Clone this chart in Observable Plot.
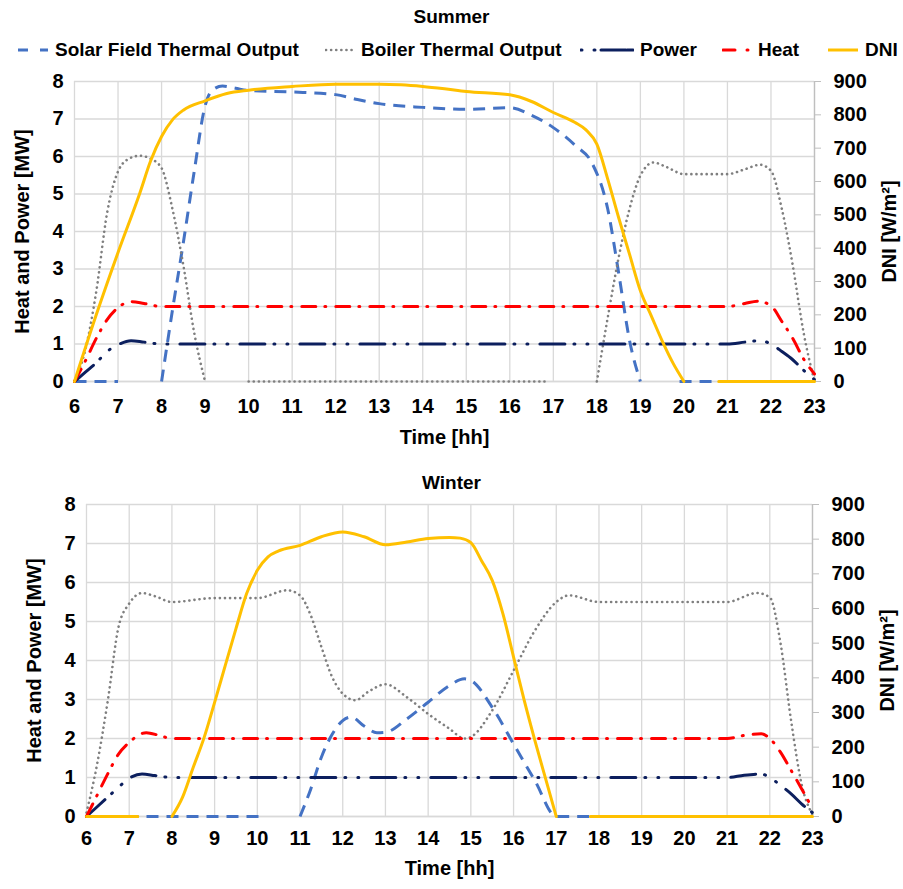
<!DOCTYPE html>
<html>
<head>
<meta charset="utf-8">
<script src="https://cdn.jsdelivr.net/npm/d3@7"></script>
<script src="https://cdn.jsdelivr.net/npm/@observablehq/plot@0.6"></script>
<style>
  html, body { margin: 0; padding: 0; background: #fff; }
  body { width: 903px; height: 889px; position: relative; overflow: hidden;
         font-family: "Liberation Sans", Arial, sans-serif; font-weight: bold; color: #000; }
  .title { position: absolute; left: 0; width: 903px; text-align: center; font-size: 19px; z-index: 2; }
  .panel { position: absolute; left: 0; z-index: 1; }
  .panel svg text { font-weight: bold; }
  #legend { position: absolute; top: 38px; left: 0; width: 903px; height: 24px; font-size: 19px; z-index: 2; }
  .lg { position: absolute; top: 0; display: flex; align-items: center; height: 24px; white-space: nowrap; }
  .lg svg { margin-right: 6px; }
</style>
</head>
<body>
<div class="panel" id="summer" style="top:60px"></div>
<div class="panel" id="winter" style="top:484px"></div>
<div class="title" style="top:6px">Summer</div>
<div id="legend"></div>
<div class="title" style="top:472px">Winter</div>
<script>
// ---------- data ----------
const hours = d3.range(6, 24);
const mwTicks = [0, 1, 2, 3, 4, 5, 6, 7, 8];
const dniTicks = [0, 100, 200, 300, 400, 500, 600, 700, 800, 900];
const dniMax = 900; // DNI axis top corresponds to 8 MW

const seriesNames = ["Solar Field Thermal Output", "Boiler Thermal Output", "Power", "Heat", "DNI"];

// Summer  [hour, MW]  (DNI in W/m²); null = segment not visible in the original
const summerSolar = [[6,0],[7,0],[7.5,null],[8,0],[8.25,1.9],[8.5,3.7],[8.75,5.6],[9,7.35],[9.15,7.75],[9.4,7.88],[9.7,7.82],[10,7.76],[11,7.72],[12,7.65],[12.5,7.52],[13,7.41],[14,7.31],[15,7.26],[16,7.3],[16.5,7.1],[17,6.77],[17.5,6.3],[17.9,5.8],[18.25,4.6],[18.5,2.9],[18.75,1.1],[19,0],[19.45,null],[19.9,0],[21,0],[22,0],[23,0]];
const summerBoiler = [[6,0],[6.25,0.85],[6.5,2.4],[6.75,4.5],[7,5.6],[7.25,5.94],[7.5,6.02],[7.75,5.94],[8,5.69],[8.25,4.6],[8.5,3.1],[8.75,1.3],[9,0],[9.5,null],[10,0],[11,0],[12,0],[13,0],[14,0],[15,0],[16,0],[16.9,0],[17.5,null],[18,0],[18.25,1.7],[18.5,3.3],[18.75,4.6],[19,5.49],[19.3,5.84],[19.6,5.72],[20,5.53],[21,5.53],[21.4,5.66],[21.75,5.78],[22,5.62],[22.25,4.6],[22.5,3.1],[22.75,1.3],[23,0]];
const summerPower = [[6,0],[6.25,0.25],[6.5,0.5],[6.75,0.8],[7,0.98],[7.3,1.09],[7.6,1.05],[8,1.0],[21,1.0],[21.4,1.05],[21.75,1.09],[22,1.0],[22.25,0.8],[22.5,0.58],[22.75,0.3],[23,0.05]];
const summerHeat = [[6,0],[6.25,0.55],[6.5,1.15],[6.75,1.65],[7,1.97],[7.3,2.13],[7.6,2.08],[8,2.0],[21,2.0],[21.4,2.08],[21.7,2.14],[22,2.02],[22.25,1.6],[22.5,1.15],[22.75,0.6],[23,0.2]];
const summerDNI = [[6,0],[6.5,200],[7,387],[7.5,565],[7.75,662],[8,735],[8.25,785],[8.5,814],[9,842],[9.5,864],[10,874],[11,885],[12,892],[13,892],[13.5,890],[14,885],[14.5,878],[15,870],[16,860],[16.5,840],[17,807],[17.5,777],[17.75,755],[18,712],[18.25,607],[18.5,492],[18.75,382],[19,272],[19.25,197],[19.5,122],[19.75,55],[20,0],[20.4,null],[20.8,0],[21,0],[22,0],[23,0]];

// Winter
const winterSolar = [[6,0],[7,0],[8,0],[9,0],[10,0],[10.2,0],[10.6,null],[11,0],[11.25,0.7],[11.5,1.52],[11.75,2.1],[12,2.46],[12.2,2.55],[12.5,2.32],[12.8,2.15],[13,2.16],[13.5,2.5],[14,2.93],[14.5,3.36],[14.85,3.53],[15,3.49],[15.5,2.8],[16,1.86],[16.5,0.92],[17,0],[18,0],[19,0],[20,0],[21,0],[22,0],[23,0]];
const winterBoiler = [[6,0.1],[6.25,1.35],[6.5,2.98],[6.75,4.86],[7,5.46],[7.3,5.73],[7.6,5.65],[8,5.5],[9,5.6],[10,5.6],[10.7,5.8],[11,5.67],[11.25,5.16],[11.5,4.35],[11.75,3.58],[12,3.15],[12.3,2.98],[12.6,3.2],[13,3.39],[13.5,3.06],[14,2.63],[14.5,2.25],[14.85,2.0],[15,2.04],[15.5,2.72],[16,3.74],[16.5,4.77],[17,5.5],[17.3,5.67],[18,5.5],[19,5.5],[20,5.5],[21,5.5],[21.7,5.73],[22,5.62],[22.25,4.45],[22.5,2.45],[22.75,0.8],[23,0.05]];
const winterPower = [[6,0],[6.25,0.25],[6.5,0.5],[6.75,0.75],[7,0.98],[7.3,1.09],[7.6,1.05],[8,1.0],[21,1.0],[21.4,1.06],[21.8,1.09],[22,1.0],[22.25,0.8],[22.5,0.58],[22.75,0.32],[23,0.1]];
const winterHeat = [[6,0],[6.25,0.55],[6.5,1.1],[6.75,1.6],[7,1.9],[7.4,2.15],[7.7,2.08],[8,2.0],[21,2.0],[21.4,2.08],[21.8,2.12],[22,2.0],[22.25,1.65],[22.5,1.18],[22.75,0.7],[23,0.2]];
const winterDNI = [[6,0],[7,0],[7.2,0],[7.6,null],[8,0],[8.25,56],[8.5,142],[8.75,226],[9,329],[9.25,436],[9.5,542],[9.75,643],[10,710],[10.25,749],[10.5,766],[11,782],[11.5,807],[12,821],[12.5,807],[13,784],[13.5,792],[14,802],[14.5,805],[14.75,803],[15,790],[15.25,738],[15.5,681],[15.75,585],[16,460],[16.25,335],[16.5,219],[16.75,109],[17,0],[17.4,null],[17.8,0],[18,0],[19,0],[20,0],[21,0],[22,0],[23,0]];

// ---------- styles ----------
const styles = {
  "Solar Field Thermal Output": {stroke: "#4472C4", strokeWidth: 3, strokeDasharray: "12,8", strokeLinecap: "butt"},
  "Boiler Thermal Output": {stroke: "#7f7f7f", strokeWidth: 2.6, strokeDasharray: "0.1,5", strokeLinecap: "round"},
  "Power": {stroke: "#0c1f5e", strokeWidth: 3, strokeDasharray: "25,9,1,12,1,12", strokeLinecap: "round"},
  "Heat": {stroke: "#ff0000", strokeWidth: 3, strokeDasharray: "14,9,1,10", strokeLinecap: "round"},
  "DNI": {stroke: "#ffc000", strokeWidth: 3}
};

const FONT = '"Liberation Sans", Arial, sans-serif';

function panel({solar, boiler, power, heat, dni, height, marginTop, marginBottom, marginLeft, marginRight, xPad, xLabelOffset}) {
  const toRows = (arr, scale = 1) => arr.map(([t, v]) => ({t, v: v == null ? NaN : v * scale}));
  const sets = [
    ["Solar Field Thermal Output", toRows(solar)],
    ["Boiler Thermal Output", toRows(boiler)],
    ["Power", toRows(power)],
    ["Heat", toRows(heat)],
    ["DNI", toRows(dni, 8 / dniMax)]
  ];
  return Plot.plot({
    width: 903, height, marginTop, marginBottom, marginLeft, marginRight,
    style: {fontFamily: FONT, fontSize: "20px", fontWeight: "bold", color: "#000", background: "#fff", overflow: "visible"},
    x: {domain: [6, 23]},
    y: {domain: [0, 8]},
    marks: [
      Plot.gridX(hours, {stroke: "#d9d9d9", strokeOpacity: 1, strokeWidth: 1.3}),
      Plot.gridY(mwTicks, {stroke: "#d9d9d9", strokeOpacity: 1, strokeWidth: 1.3}),
      Plot.ruleX([23], {stroke: "#bfbfbf", strokeWidth: 1.3}),
      Plot.ruleY([0], {stroke: "#d9d9d9", strokeWidth: 1.3}),
      Plot.axisX(hours, {tickSize: 0, tickPadding: xPad, fontSize: 20, fontWeight: "bold",
        label: "Time [hh]", labelAnchor: "center", labelArrow: "none", labelOffset: xLabelOffset}),
      Plot.axisY(mwTicks, {anchor: "left", tickSize: 0, tickPadding: 11, fontSize: 20, fontWeight: "bold",
        label: "Heat and Power [MW]", labelAnchor: "center", labelArrow: "none", labelOffset: 60}),
      Plot.axisY(dniTicks.map(d => d * 8 / dniMax), {anchor: "right", tickSize: 6, tickPadding: 13, stroke: "#bfbfbf",
        fontSize: 20, fontWeight: "bold", tickFormat: d => String(Math.round(d * dniMax / 8)),
        label: "DNI [W/m²]", labelAnchor: "center", labelArrow: "none", labelOffset: 81}),
      ...sets.map(([name, rows]) => Plot.line(rows, {x: "t", y: "v", curve: "monotone-x", ...styles[name]}))
    ]
  });
}

const summer = panel({solar: summerSolar, boiler: summerBoiler, power: summerPower, heat: summerHeat, dni: summerDNI,
  height: 395, marginTop: 21, marginBottom: 74, marginLeft: 74, marginRight: 89, xPad: 17, xLabelOffset: 62});
document.getElementById("summer").appendChild(summer);

const winter = panel({solar: winterSolar, boiler: winterBoiler, power: winterPower, heat: winterHeat, dni: winterDNI,
  height: 405, marginTop: 20, marginBottom: 73, marginLeft: 86, marginRight: 91, xPad: 14, xLabelOffset: 58});
document.getElementById("winter").appendChild(winter);

// ---------- legend ----------
const legendX = [{x: 17, w: 32}, {x: 325, w: 30}, {x: 580, w: 54}, {x: 722, w: 30}, {x: 827, w: 32}];
const legendDash = {
  "Solar Field Thermal Output": "10,12",
  "Boiler Thermal Output": "0.1,5",
  "Power": "1,12,1,6,25",
  "Heat": "12,12,1,10"
};
const legend = document.getElementById("legend");
seriesNames.forEach((name, i) => {
  const s = styles[name];
  const item = document.createElement("div");
  item.className = "lg";
  item.style.left = legendX[i].x + "px";
  const w = legendX[i].w;
  const dash = legendDash[name] ? `stroke-dasharray="${legendDash[name]}"` : "";
  item.innerHTML = `<svg width="${w}" height="10"><line x1="1" y1="5" x2="${w - 1}" y2="5" stroke="${s.stroke}" stroke-width="${s.strokeWidth}" ${dash} stroke-linecap="${s.strokeLinecap || "butt"}"/></svg><span>${name}</span>`;
  legend.appendChild(item);
});
</script>
</body>
</html>
